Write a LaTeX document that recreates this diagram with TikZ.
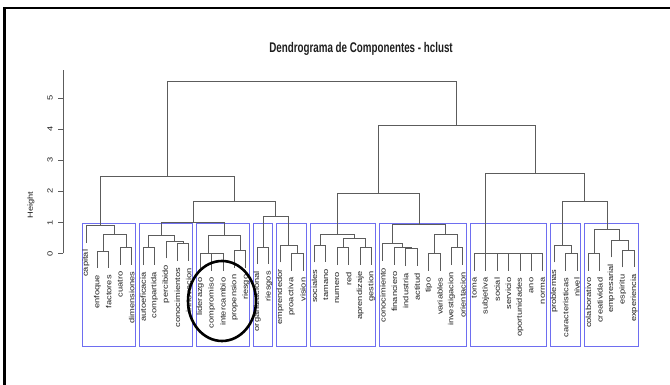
\documentclass[tikz,border=0pt]{standalone}
\usepackage{fontspec}
\setmainfont{Liberation Sans}
\usepackage{tikz}
\definecolor{hcgray}{HTML}{5C5C5C}
\definecolor{hcblue}{HTML}{6E6EF0}
\definecolor{hcink}{HTML}{1E1E1E}

\begin{document}
\begin{tikzpicture}[
  x=1pt, y=1pt,
  dend/.style={draw=hcgray, line width=0.85pt},
  grp/.style={draw=hcblue, line width=0.8pt},
  lbl/.style={font=\fontsize{9.3}{10}\selectfont, text=hcink, inner sep=0pt, xscale=0.8, rotate=90},
  leaf/.style={lbl, anchor=east},
  ttl/.style={font=\bfseries\fontsize{14}{16}\selectfont, text=hcink, xscale=0.7}
]
\useasboundingbox (0,0) rectangle (670,385);
\draw[line width=2.2pt] (4.5,0) |- (670,377.3);
\node[ttl] (title) at (361,336) {Dendrograma de Componentes - hclust};

\begin{scope}[x=11.42pt, y=31.05pt, shift={(74.58pt,131.5pt)}]
% axis
\draw[dend] (-1.014,0) -- (-1.014,5.91);
\foreach \t in {0,...,5} {
  \draw[dend] (-1.014,\t) -- (-1.495,\t);
  \node[lbl] (tick\t) at (-2.15,\t) {\t};
}
\node[lbl] (ylab) at (-3.82,1.56) {Height};

% rect.hclust groups
\foreach \a/\b in {1/5,6/10,11/15,16/17,18/20,21/26,27/34,35/41,42/44,45/49}
  \draw[grp] (\a-0.34,-2.98) rectangle (\b+0.33,0.96);

% leaves (index/label/hang end)
\foreach \i/\w/\h in {1/capital/0.345, 2/enfoque/-0.475, 3/factores/-0.475,
    4/cuatro/-0.355, 5/dimensiones/-0.355, 6/autoeficacia/-0.375,
    7/compartida/-0.375, 8/percibido/-0.155, 9/conocimientos/-0.245,
    10/innovacion/-0.245, 11/liderazgo/-0.555, 12/compromiso/-0.555,
    13/intercambio/-0.555, 14/propension/-0.455, 15/riesgo/-0.455,
    16/organizacional/-0.345, 17/riesgos/-0.345, 18/emprendedor/-0.285,
    19/proactiva/-0.555, 20/vision/-0.555, 21/sociales/-0.285,
    22/tamano/-0.285, 23/numero/-0.375, 24/red/-0.375,
    25/aprendizaje/-0.355, 26/gestion/-0.355, 27/conocimiento/-0.235,
    28/financiero/-0.355, 29/industria/-0.405, 30/actitud/-0.405,
    31/tipo/-0.555, 32/variables/-0.555, 33/investigacion/-0.375,
    34/orientacion/-0.375, 35/toma/-0.555, 36/subjetiva/-0.555,
    37/social/-0.555, 38/servicio/-0.555, 39/oportunidades/-0.555,
    40/ano/-0.555, 41/norma/-0.555, 42/problemas/-0.285,
    43/caracteristicas/-0.555, 44/nivel/-0.555, 45/colaborativo/-0.555,
    46/creatividad/-0.555, 47/empresarial/-0.125, 48/espiritu/-0.445,
    49/experiencia/-0.445} {
  \coordinate (l\i) at (\i,\h);
  \node[leaf] (\w) at (\i,\h-0.22) {\w};
}

% merge points
\foreach \n/\x/\h in {A1/2.5/0.08, A2/4.5/0.2, A3/3.5/0.63, A4/2.25/0.9,
    B1/6.5/0.18, B2/9.5/0.31, B3/8.75/0.4, B4/7.625/0.59,
    C1/12.5/0, C2/11.75/0, C3/14.5/0.1, C4/13.125/0.59, D1/10.375/1.0,
    E1/16.5/0.21, E2/19.5/0, E3/18.75/0.27, E4/17.625/1.2,
    F1/14/1.68, G1/8.125/2.49,
    H1/21.5/0.27, H2/23.5/0.18, H3/25.5/0.2, H4/24.5/0.47, H5/23/0.63,
    I1/29.5/0.15, I2/28.75/0.2, I3/27.875/0.32, I4/31.5/0, I5/33.5/0.18,
    I6/32.5/0.63, I7/30.1875/0.93, J1/26.594/1.92,
    K1/40.5/0, K2/39.75/0, K3/38.875/0, K4/37.938/0, K5/36.969/0, K6/35.984/0,
    L1/43.5/0, L2/42.75/0.27,
    M1/45.5/0, M2/48.5/0.11, M3/47.75/0.43, M4/46.625/0.79,
    N1/44.688/1.67, N2/40.336/2.58, O1/33.465/4.11, R/20.79/5.55}
  \coordinate (\n) at (\x,\h);

% left child / merge / right child
\foreach \a/\p/\b in {l2/A1/l3, l4/A2/l5, A1/A3/A2, l1/A4/A3,
    l6/B1/l7, l9/B2/l10, l8/B3/B2, B1/B4/B3,
    l12/C1/l13, l11/C2/C1, l14/C3/l15, C2/C4/C3, B4/D1/C4,
    l16/E1/l17, l19/E2/l20, l18/E3/E2, E1/E4/E3,
    D1/F1/E4, A4/G1/F1,
    l21/H1/l22, l23/H2/l24, l25/H3/l26, H2/H4/H3, H1/H5/H4,
    l29/I1/l30, l28/I2/I1, l27/I3/I2, l31/I4/l32, l33/I5/l34,
    I4/I6/I5, I3/I7/I6, H5/J1/I7,
    l40/K1/l41, l39/K2/K1, l38/K3/K2, l37/K4/K3, l36/K5/K4, l35/K6/K5,
    l43/L1/l44, l42/L2/L1,
    l45/M1/l46, l48/M2/l49, l47/M3/M2, M1/M4/M3,
    L2/N1/M4, K6/N2/N1, J1/O1/N2, G1/R/O1}
  \draw[dend] (\a) |- (\p) -| (\b);
\end{scope}

\draw[line width=2.6pt] (222,84) ellipse (34pt and 40pt);
\end{tikzpicture}
\end{document}
